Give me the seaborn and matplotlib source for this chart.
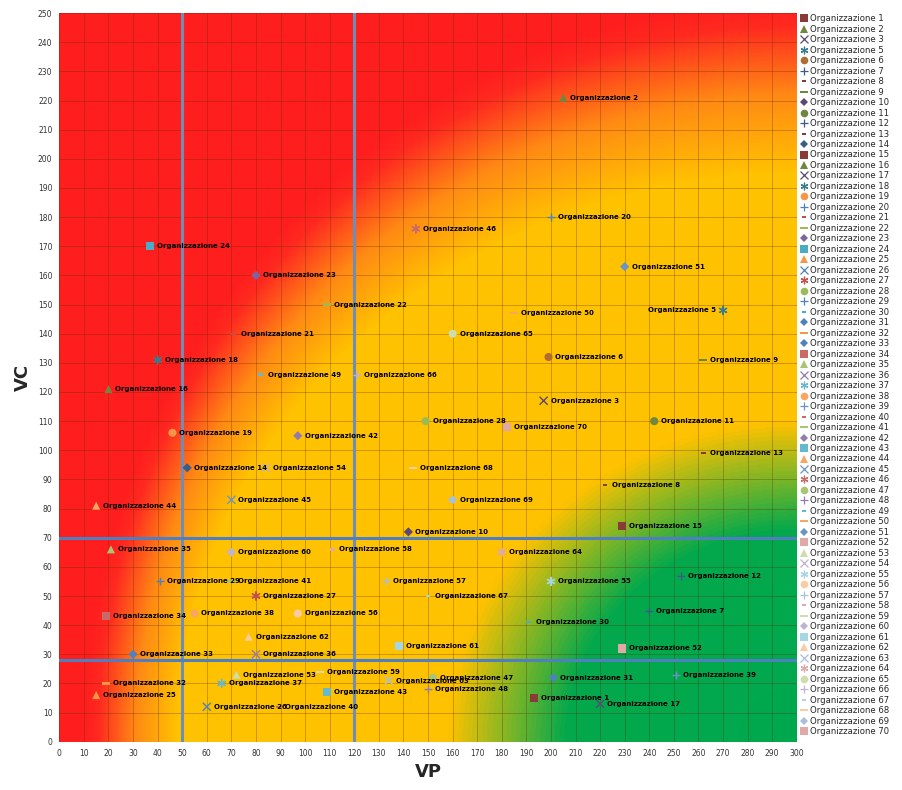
import numpy as np
import pandas as pd
import matplotlib
matplotlib.use("Agg")
import matplotlib.pyplot as plt
import seaborn as sns
from matplotlib.colors import LinearSegmentedColormap, to_rgb
from matplotlib.markers import MarkerStyle
from matplotlib.transforms import Affine2D
from matplotlib.lines import Line2D

# ---- data --------------------------------------------------------------
org_ids = [1, 2, 3, 5, 6, 7, 8, 9, 10, 11, 12, 13, 14, 15, 16, 17, 18, 19, 20,
           21, 22, 23, 24, 25, 26, 27, 28, 29, 30, 31, 32, 33, 34, 35, 36, 37,
           38, 39, 40, 41, 42, 43, 44, 45, 46, 47, 48, 49, 50, 51, 52, 53, 54,
           55, 56, 57, 58, 59, 60, 61, 62, 63, 64, 65, 66, 67, 68, 69, 70]
vp = [193, 205, 197, 270, 199, 240, 222, 262, 142, 242, 253, 262, 52, 229, 20,
      220, 40, 46, 200, 71, 109, 80, 37, 15, 60, 80, 149, 41, 191, 201, 19, 30,
      19, 21, 80, 66, 55, 251, 89, 70, 97, 109, 15, 70, 145, 152, 150, 82, 185,
      230, 229, 72, 84, 200, 97, 133, 111, 106, 70, 138, 77, 134, 180, 160,
      121, 150, 144, 160, 182]
vc = [15, 221, 117, 148, 132, 45, 88, 131, 72, 110, 57, 99, 94, 74, 121, 13,
      131, 106, 180, 140, 150, 160, 170, 16, 12, 50, 110, 55, 41, 22, 20, 30,
      43, 66, 30, 20, 44, 23, 12, 55, 105, 17, 81, 83, 176, 22, 18, 126, 147,
      163, 32, 23, 94, 55, 44, 55, 66, 24, 65, 33, 36, 21, 65, 140, 126, 50,
      94, 83, 108]

vp_cuts = [50, 120]
vc_cuts = [28, 70]

# ---- styling (one char per organisation, as in the legend) -------------
marker_codes = ("s^x*o+-=D" + "o+-D" + "s^x*o+-=D" + "s^x*o+-D=D"
                + "s^x*o+-=D" * 4 + "s")
color_codes = ("RGPTOBRGP" + "GBRB" + "RGPTOBRGP" + "TOBRGBTBOB"
               + "RGPTOB" * 6 + "R")
base = {"R": "#C0504D", "G": "#9BBB59", "P": "#8064A2",
        "T": "#4BACC6", "O": "#F79646", "B": "#4F81BD"}


def shade(hexcol, n):
    c = np.array(to_rgb(hexcol))
    if n <= 18:
        return tuple(c * 0.72)
    if n <= 33:
        return tuple(c)
    if n <= 51:
        return tuple(c + (1 - c) * 0.15)
    return tuple(c + (1 - c) * 0.5)


def dash(wide):
    return MarkerStyle("s", transform=Affine2D().scale(1.0 if wide else 0.6, 0.28))


marker_map = {"s": "s", "^": "^", "o": "o", "D": MarkerStyle("D", transform=Affine2D().scale(0.8)),
              "x": "x", "+": "+", "*": (6, 2, 0), "-": dash(False), "=": dash(True)}
line_art = set("x+*")

labels = [f"Organizzazione {n}" for n in org_ids]
df = pd.DataFrame({"label": labels, "vp": vp, "vc": vc, "mk": list(marker_codes)})
palette = {lab: shade(base[c], n) for lab, c, n in zip(labels, color_codes, org_ids)}
markers = {lab: marker_map[m] for lab, m in zip(labels, marker_codes)}

# ---- figure ------------------------------------------------------------
sns.set_theme(style="white")
plt.rcParams["font.family"] = ["DejaVu Sans"]

fig = plt.figure(figsize=(9.03, 7.9), dpi=100)
ax = fig.add_axes([0.0657, 0.0611, 0.8167, 0.9223])

# background: green corner at bottom right, yellow band, orange, red
gx, gy = np.meshgrid(np.linspace(0, 300, 600), np.linspace(0, 250, 500))
dx, dy = 300 - gx, gy
d_in = np.maximum(np.hypot(dx / 252, dy / 195), 1e-6)      # 1 on the yellow edge
d_out = np.maximum(np.hypot(dx / 290, dy / 255), 1e-6)     # 1 on the red edge
s_out = (1 - 1 / d_in) / (1 / d_out - 1 / d_in)
# one parameter: [0, 1] inner part (green->yellow), [1, 2] outer (yellow->red)
t = np.where(d_in < 1, d_in, 1 + np.clip(s_out, 0, 1))
stops = [(0.0, "#00A84E"), (0.37, "#04A94C"), (0.56, "#FFC200"),
         (1.0, "#FFC200"), (1.45, "#FF8A14"), (1.85, "#FF2A20"), (2.0, "#FF1E1E")]
bg = LinearSegmentedColormap.from_list("bg", [(p / 2, c) for p, c in stops])
ax.imshow(t, extent=[0, 300, 0, 250], origin="lower", cmap=bg,
          vmin=0, vmax=2, aspect="auto", zorder=0, interpolation="bilinear")

ax.set_xlim(0, 300)
ax.set_ylim(0, 250)
ax.set_xticks(range(0, 301, 10))
ax.set_yticks(range(0, 251, 10))
ax.grid(True, color="#5a2a00", alpha=0.35, linewidth=0.6)
ax.set_axisbelow(True)
for s in ax.spines.values():
    s.set_visible(False)
ax.tick_params(labelsize=5.5, length=2, pad=3, colors="#333333")

for v in vp_cuts:
    ax.axvline(v, color="#6F8DB5", linewidth=2.2, zorder=2)
for v in vc_cuts:
    ax.axhline(v, color="#4F7FC0", linewidth=2.2, zorder=2)

filled = df[~df["mk"].isin(line_art)]
lines = df[df["mk"].isin(line_art)]
sns.scatterplot(data=filled, x="vp", y="vc", hue="label", style="label",
                palette={k: palette[k] for k in filled["label"]},
                markers={k: markers[k] for k in filled["label"]},
                s=34, linewidth=0, legend=False, ax=ax, zorder=3)
sns.scatterplot(data=lines, x="vp", y="vc", hue="label", style="label",
                palette={k: palette[k] for k in lines["label"]},
                markers={k: markers[k] for k in lines["label"]},
                s=34, linewidth=1.0, legend=False, ax=ax, zorder=3)

for lab, x, y, n in zip(labels, vp, vc, org_ids):
    left = n == 5
    ax.annotate(lab, (x, y), xytext=(-5 if left else 5, 0), textcoords="offset points",
                ha="right" if left else "left", va="center", fontsize=5.0,
                fontweight="bold", color="black", zorder=4)

ax.set_xlabel("VP", fontsize=13, fontweight="bold", labelpad=4)
ax.set_ylabel("VC", fontsize=13, fontweight="bold", labelpad=4)

handles = []
for lab, m in zip(labels, marker_codes):
    la = m in line_art
    handles.append(Line2D([], [], linestyle="none", marker=marker_map[m],
                          color=palette[lab], markersize=5.5,
                          markeredgewidth=0.9 if la else 0))
fig.legend(handles, labels, loc="upper left", bbox_to_anchor=(0.887, 0.982),
           frameon=False, fontsize=6.1, handlelength=0.8, handletextpad=0.3,
           labelspacing=0.175, borderaxespad=0, borderpad=0,
           labelcolor="#262626")

fig.savefig("out.png", dpi=100)
